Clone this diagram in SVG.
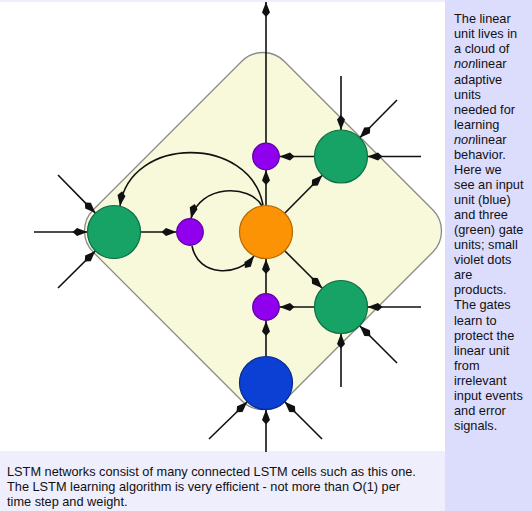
<svg xmlns="http://www.w3.org/2000/svg" width="532" height="511" viewBox="0 0 532 511">
<defs>
<style>
.bg{fill:#EEEEFC}
.panel{fill:#DCDCFC}
.cloud{fill:#F7F9DA;stroke:#8a8a8a;stroke-width:1.3}
.c{stroke-width:1.2}
.green{fill:#17A366;stroke:#0d6e44}
.orange{fill:#FB9304;stroke:#b86800}
.blue{fill:#0C3FD4;stroke:#082a8f}
.violet{fill:#9000EE;stroke:#5e009c}
.ln{fill:none;stroke:#111;stroke-width:1.6;marker-end:url(#ah)}
text{font-family:"Liberation Sans",Arial,sans-serif;font-size:12.75px;fill:#111}
</style>
<marker id="ah" viewBox="-16 -5 17 10" refX="0" refY="0" markerWidth="17" markerHeight="10" markerUnits="userSpaceOnUse" orient="auto">
<path d="M0,0 L-10.5,-4 L-15,0 L-10.5,4 Z" fill="#111"/>
</marker>
</defs>
<rect class="bg" x="0" y="0" width="532" height="511"/>
<rect class="panel" x="445" y="0" width="87" height="511"/>
<rect x="0" y="2" width="445" height="449" fill="#ffffff"/>
<rect class="cloud" x="128" y="96" width="270" height="270" rx="30" transform="rotate(45 263 231)"/>
<g id="connectors">
<line class="ln" x1="266" y1="143" x2="266" y2="2"/>
<line class="ln" x1="314.5" y1="156.5" x2="279.5" y2="156.5"/>
<line class="ln" x1="266" y1="205.5" x2="266" y2="170"/>
<line class="ln" x1="284.7" y1="213.3" x2="322.3" y2="175.2"/>
<line class="ln" x1="284.7" y1="250.7" x2="322.3" y2="288.3"/>
<line class="ln" x1="314.5" y1="307" x2="279.5" y2="307"/>
<line class="ln" x1="266" y1="356" x2="266" y2="321"/>
<line class="ln" x1="266" y1="293" x2="266" y2="259"/>
<line class="ln" x1="140.5" y1="232" x2="176.5" y2="232"/>
<path class="ln" d="M192 246 C198 277 238 277 254 256"/>
<path class="ln" d="M262 206 C250 184 200 184 191 218.5"/>
<path class="ln" d="M263 205 C250 135 130 135 120 206"/>
<line class="ln" x1="58" y1="175" x2="95.4" y2="213.1"/>
<line class="ln" x1="34" y1="232" x2="87.5" y2="232"/>
<line class="ln" x1="58" y1="288" x2="95.4" y2="250.9"/>
<line class="ln" x1="341" y1="76" x2="341" y2="130"/>
<line class="ln" x1="397" y1="100" x2="359.7" y2="137.8"/>
<line class="ln" x1="421" y1="156.5" x2="367.5" y2="156.5"/>
<line class="ln" x1="421" y1="307" x2="367.5" y2="307"/>
<line class="ln" x1="397" y1="363" x2="359.7" y2="325.7"/>
<line class="ln" x1="341" y1="387" x2="341" y2="333.5"/>
<line class="ln" x1="209" y1="439" x2="247.3" y2="401.7"/>
<line class="ln" x1="266" y1="452" x2="266" y2="409.5"/>
<line class="ln" x1="322" y1="439" x2="284.7" y2="401.7"/>
</g>
<g id="cell"><circle class="c orange" cx="266" cy="232" r="26.5"/></g>
<g id="gate-left"><circle class="c green" cx="114" cy="232" r="26.5"/></g>
<g id="gate-top"><circle class="c green" cx="341" cy="156.5" r="26.5"/></g>
<g id="gate-bottom"><circle class="c green" cx="341" cy="307" r="26.5"/></g>
<g id="input"><circle class="c blue" cx="266" cy="383" r="26.5"/></g>
<g id="prod-top"><circle class="c violet" cx="266" cy="156.5" r="13.3"/></g>
<g id="prod-left"><circle class="c violet" cx="190" cy="232" r="13.3"/></g>
<g id="prod-bottom"><circle class="c violet" cx="266" cy="307" r="13.3"/></g>
<g id="side-text">
<text x="454" y="23">The linear</text>
<text x="454" y="38">unit lives in</text>
<text x="454" y="53">a cloud of</text>
<text x="454" y="68"><tspan font-style="italic">non</tspan>linear</text>
<text x="454" y="83.5">adaptive</text>
<text x="454" y="98.5">units</text>
<text x="454" y="113.5">needed for</text>
<text x="454" y="128.5">learning</text>
<text x="454" y="143.5"><tspan font-style="italic">non</tspan>linear</text>
<text x="454" y="158.5">behavior.</text>
<text x="454" y="173.5">Here we</text>
<text x="454" y="188.5">see an input</text>
<text x="454" y="203.5">unit (blue)</text>
<text x="454" y="218.5">and three</text>
<text x="454" y="234">(green) gate</text>
<text x="454" y="249">units; small</text>
<text x="454" y="264">violet dots</text>
<text x="454" y="279">are</text>
<text x="454" y="294">products.</text>
<text x="454" y="309">The gates</text>
<text x="454" y="324.5">learn to</text>
<text x="454" y="339.5">protect the</text>
<text x="454" y="354.5">linear unit</text>
<text x="454" y="369.5">from</text>
<text x="454" y="384.5">irrelevant</text>
<text x="454" y="399.5">input events</text>
<text x="454" y="414.5">and error</text>
<text x="454" y="429.5">signals.</text>
</g>
<g id="caption">
<text x="7" y="476">LSTM networks consist of many connected LSTM cells such as this one.</text>
<text x="7" y="491">The LSTM learning algorithm is very efficient - not more than O(1) per</text>
<text x="7" y="506">time step and weight.</text>
</g>
</svg>
